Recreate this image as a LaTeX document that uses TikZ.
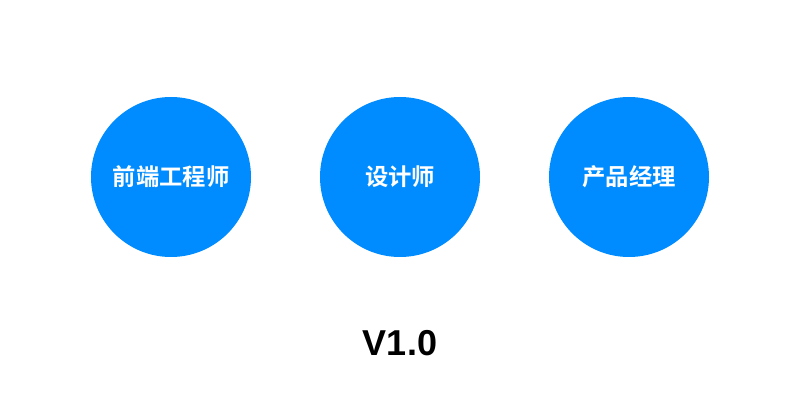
\documentclass[tikz,border=0pt]{standalone}
\usepackage{fontspec}
\setmainfont{Liberation Sans}
\newfontfamily\cjk{Noto Sans CJK SC}[BoldFont={Noto Sans CJK SC Bold}]
\usetikzlibrary{positioning}
\definecolor{roleblue}{HTML}{008CFF}
\tikzset{
    role/.style={circle, fill=roleblue, minimum size=120pt, inner sep=0pt,
        text=white, font=\cjk\bfseries\fontsize{17.5}{20}\selectfont},
}
\begin{document}
    \begin{tikzpicture}[x=0.75pt, y=-0.75pt]
        \useasboundingbox (0,0) rectangle (800,420);
        \node[role] (fe) at (171,177) {前端工程师};
        \node[role] (ds) at (400,177) {设计师};
        \node[role] (pm) at (629,177) {产品经理};
        \node[font=\bfseries\fontsize{27}{32}\selectfont] (ver) at (400,343) {V1.0};
    \end{tikzpicture}
\end{document}
